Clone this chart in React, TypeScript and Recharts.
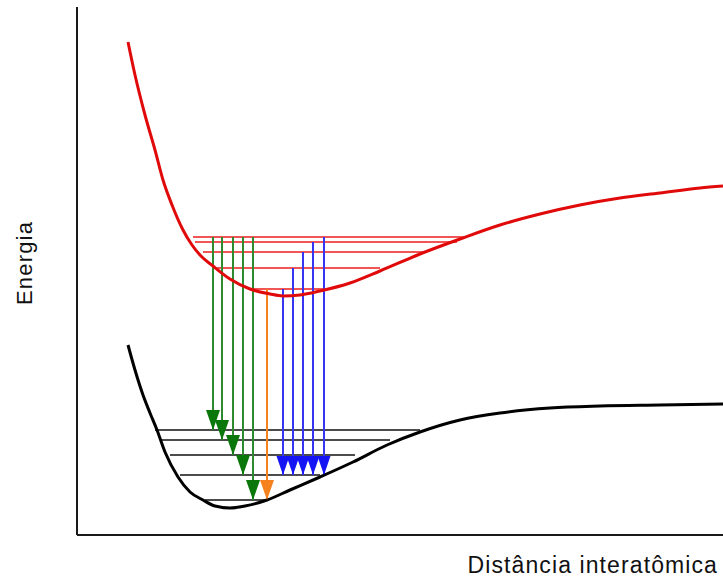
import React from 'react';
import { ComposedChart, Line, Scatter, XAxis, YAxis, Label } from 'recharts';

// Potential energy curves (distance in arbitrary units, energy in arbitrary units)
const excitedR = [0.51, 0.58, 0.68, 0.78, 0.86, 0.95, 1.06, 1.15, 1.23, 1.36, 1.53, 1.73, 1.93, 2.06, 2.23, 2.43, 2.73, 3.03, 3.43, 3.83, 4.23, 4.63, 5.03, 5.43, 5.83, 6.23, 6.46];
const excitedE = [4.93, 4.6, 4.2, 3.85, 3.55, 3.3, 3.05, 2.9, 2.8, 2.69, 2.56, 2.46, 2.41, 2.39, 2.4, 2.44, 2.52, 2.64, 2.81, 2.96, 3.1, 3.21, 3.3, 3.37, 3.42, 3.47, 3.49];

const groundR = [0.51, 0.58, 0.66, 0.73, 0.8, 0.88, 1.01, 1.13, 1.26, 1.38, 1.53, 1.68, 1.9, 2.13, 2.43, 2.76, 3.1, 3.43, 3.83, 4.23, 4.73, 5.23, 5.83, 6.46];
const groundE = [1.9, 1.65, 1.4, 1.22, 1.05, 0.83, 0.58, 0.43, 0.35, 0.29, 0.27, 0.29, 0.35, 0.45, 0.58, 0.73, 0.9, 1.03, 1.15, 1.22, 1.27, 1.29, 1.3, 1.31];

// Vibrational levels: energy and the turning points on each curve
const upperLevels = [2.98, 2.93, 2.83, 2.67, 2.46];
const upperLeft = [1.16, 1.18, 1.26, 1.4, 1.71];
const upperRight = [3.9, 3.8, 3.46, 3.03, 2.46];

const lowerLevels = [1.05, 0.95, 0.8, 0.6, 0.35];
const lowerLeft = [0.78, 0.83, 0.93, 1.03, 1.28];
const lowerRight = [3.43, 3.13, 2.78, 2.43, 1.9];

// Transitions: position, upper level index, lower level index
const greenX = [1.36, 1.45, 1.56, 1.66, 1.76];
const greenFrom = [0, 0, 0, 0, 0];
const greenTo = [0, 1, 2, 3, 4];

const orangeX = [1.9];
const orangeFrom = [4];
const orangeTo = [4];

const blueX = [2.06, 2.16, 2.26, 2.36, 2.47];
const blueFrom = [4, 3, 2, 1, 0];
const blueTo = [3, 3, 3, 3, 3];

const toPoints = (xs: number[], ys: number[]) => xs.map((x, i) => ({ x, y: ys[i] }));

const FONT = '"Liberation Sans", Arial, sans-serif';

const ArrowHead = (props: any) => {
  const { cx, cy, fill, w = 7, h = 20 } = props;
  if (cx == null || cy == null) return null;
  return <path d={`M${cx},${cy} L${cx - w},${cy - h} L${cx + w},${cy - h} Z`} fill={fill} />;
};

const buildArrows = (xs: number[], from: number[], to: number[]) =>
  xs.map((x, i) => ({
    shaft: [
      { x, y: upperLevels[from[i]] },
      { x, y: lowerLevels[to[i]] },
    ],
    tip: { x, y: lowerLevels[to[i]] },
  }));

const green = buildArrows(greenX, greenFrom, greenTo);
const orange = buildArrows(orangeX, orangeFrom, orangeTo);
const blue = buildArrows(blueX, blueFrom, blueTo);

const seg = (
  key: string,
  data: { x: number; y: number }[],
  stroke: string,
  width: number,
  curve: 'linear' | 'monotone' = 'linear'
) => (
  <Line
    key={key}
    data={data}
    dataKey="y"
    type={curve}
    stroke={stroke}
    strokeWidth={width}
    dot={false}
    activeDot={false}
    legendType="none"
    isAnimationActive={false}
  />
);

export default function App() {
  return (
    <div style={{ position: 'absolute', left: 0, top: 0, background: '#fff' }}>
      <ComposedChart width={723} height={581} margin={{ top: 7, right: 0, left: 76, bottom: 45 }}>
        <XAxis
          type="number"
          dataKey="x"
          domain={[0, 6.46]}
          allowDataOverflow
          height={1}
          tick={false}
          tickLine={false}
          axisLine={{ stroke: '#1a1a1a', strokeWidth: 2 }}
        >
          <Label
            content={() => (
              <text x={718} y={573} textAnchor="end" fontFamily={FONT} fontSize={23} letterSpacing={1.1} fill="#111">
                Distância interatômica
              </text>
            )}
          />
        </XAxis>
        <YAxis
          type="number"
          dataKey="y"
          domain={[0, 5.28]}
          allowDataOverflow
          width={1}
          tick={false}
          tickLine={false}
          axisLine={{ stroke: '#1a1a1a', strokeWidth: 2 }}
        >
          <Label
            content={() => (
              <text
                x={32}
                y={263}
                transform="rotate(-90 32 263)"
                textAnchor="middle"
                fontFamily={FONT}
                fontSize={22}
                letterSpacing={1.2}
                fill="#111"
              >
                Energia
              </text>
            )}
          />
        </YAxis>

        {upperLevels.map((y, i) =>
          seg(`ul${i}`, [{ x: upperLeft[i], y }, { x: upperRight[i], y }], '#ee1c1c', 1.5)
        )}
        {lowerLevels.map((y, i) =>
          seg(`ll${i}`, [{ x: lowerLeft[i], y }, { x: lowerRight[i], y }], '#111', 1.5)
        )}

        {green.map((a, i) => seg(`gs${i}`, a.shaft, '#2f8a2f', 2))}
        {orange.map((a, i) => seg(`os${i}`, a.shaft, '#f5821f', 2))}
        {blue.map((a, i) => seg(`bs${i}`, a.shaft, '#3535f2', 2))}

        {seg('excited', toPoints(excitedR, excitedE), '#e10a0a', 3, 'monotone')}
        {seg('ground', toPoints(groundR, groundE), '#000', 3, 'monotone')}

        <Scatter
          data={green.map((a) => a.tip)}
          fill="#0a770a"
          shape={(p: any) => <ArrowHead {...p} w={7} h={20} />}
          legendType="none"
          isAnimationActive={false}
        />
        <Scatter
          data={orange.map((a) => a.tip)}
          fill="#f5821f"
          shape={(p: any) => <ArrowHead {...p} w={7} h={20} />}
          legendType="none"
          isAnimationActive={false}
        />
        <Scatter
          data={blue.map((a) => a.tip)}
          fill="#1414f5"
          shape={(p: any) => <ArrowHead {...p} w={6.5} h={19} />}
          legendType="none"
          isAnimationActive={false}
        />
      </ComposedChart>
    </div>
  );
}
